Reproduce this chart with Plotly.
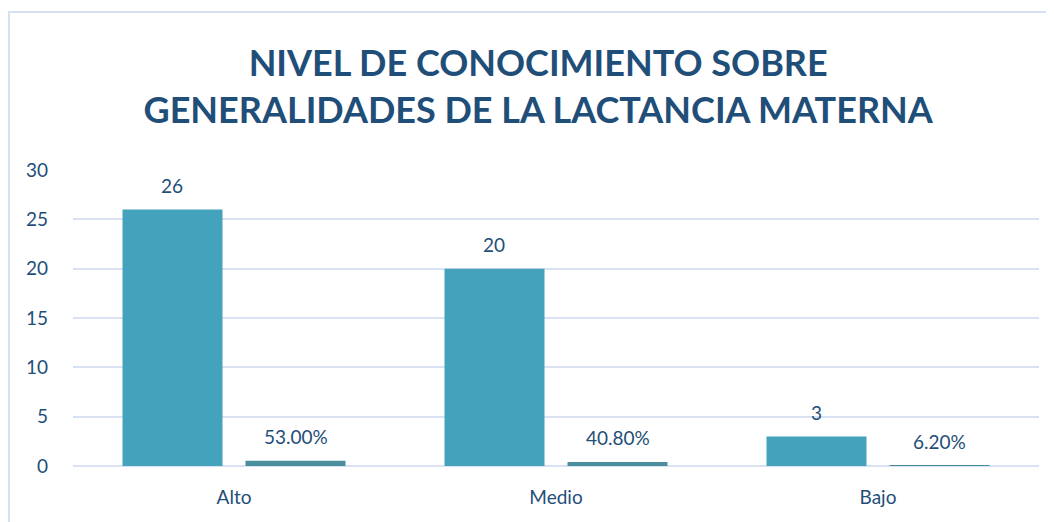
import plotly.graph_objects as go

categories = ["Alto", "Medio", "Bajo"]
frecuencia = [26, 20, 3]
porcentaje = [0.53, 0.408, 0.062]
porcentaje_labels = ["53.00%", "40.80%", "6.20%"]
y_ticks = [0, 5, 10, 15, 20, 25, 30]

TXT = "#1F4E79"
FONT = "Lato"
W, H = 1054, 522
# page body has an 8px margin, so figure coords = screen coords - 8
L, R, T, B = 65, 23, 162, 64
pw, ph = W - L - R, H - T - B

fig = go.Figure()
fig.add_trace(go.Bar(x=categories, y=frecuencia, name="Frecuencia",
                     marker=dict(color="#45A2BC", line=dict(width=0))))
fig.add_trace(go.Bar(x=categories, y=porcentaje, name="Porcentaje",
                     marker=dict(color="#4A8E9E", line=dict(width=0))))

# data labels
slot = pw / len(categories) * (1 - 0.236) / 2
for c, v in zip(categories, frecuencia):
    fig.add_annotation(x=c, y=v, xref="x", yref="y", text=str(v), showarrow=False,
                       xshift=-slot / 2, yshift=24, font=dict(family=FONT, size=19, color=TXT))
for c, v, t in zip(categories, porcentaje, porcentaje_labels):
    fig.add_annotation(x=c, y=v, xref="x", yref="y", text=t, showarrow=False,
                       xshift=slot / 2, yshift=24, font=dict(family=FONT, size=19, color=TXT))

# chart frame
fig.add_shape(type="rect", xref="paper", yref="paper",
              x0=(1 - L) / pw, x1=(W + 10 - L) / pw,
              y0=(H - B - (H + 10)) / ph, y1=(H - B - 4) / ph,
              line=dict(color="#D6E2F2", width=2), fillcolor="rgba(0,0,0,0)", layer="below")

fig.update_layout(
    width=W, height=H,
    margin=dict(l=L, r=R, t=T, b=B, autoexpand=False),
    paper_bgcolor="white", plot_bgcolor="white",
    barmode="group", bargap=0.236, bargroupgap=0.187,
    showlegend=False,
    title=dict(text="NIVEL DE CONOCIMIENTO SOBRE<br>GENERALIDADES DE LA LACTANCIA MATERNA",
               x=0.503, xanchor="center", y=1 - 68 / H, yanchor="middle",
               font=dict(family=FONT, size=36, color=TXT, weight="bold")),
    font=dict(family=FONT, color=TXT, size=19),
)
fig.update_yaxes(range=[0, 30], tickvals=y_ticks, showgrid=True, gridcolor="#D9E2F3", gridwidth=1.5,
                 zeroline=True, zerolinecolor="#D9E2F3", zerolinewidth=1.5, automargin=False,
                 showline=False, ticks="", ticklabelstandoff=24,
                 tickfont=dict(family=FONT, size=19, color=TXT))
fig.update_xaxes(showline=False, ticks="", ticklabelstandoff=18, automargin=False,
                 tickfont=dict(family=FONT, size=19, color=TXT))

fig.write_html("out.html")
